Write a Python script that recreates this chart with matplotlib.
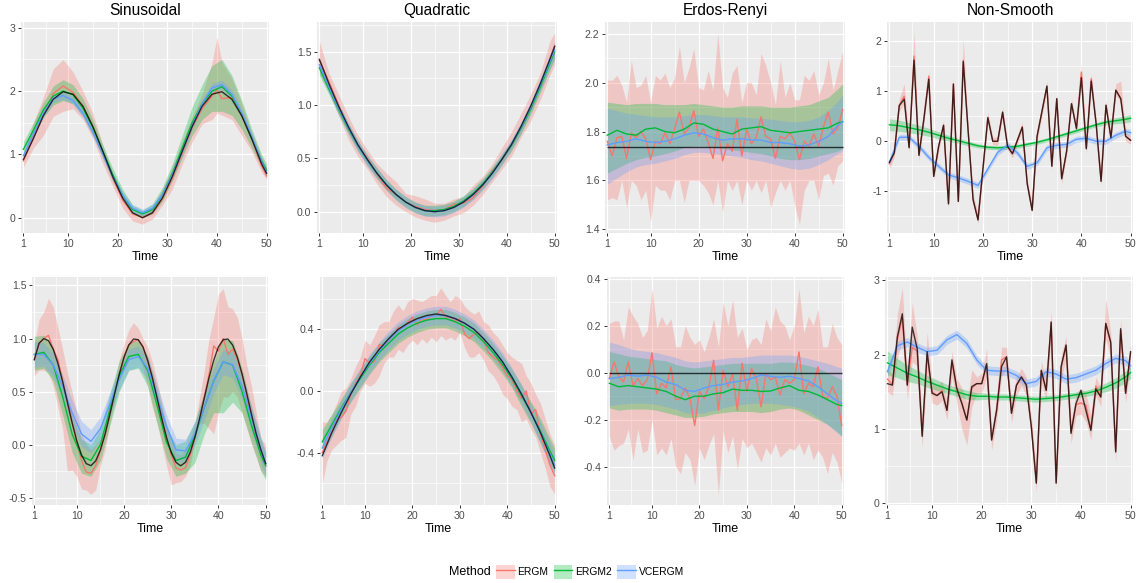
import numpy as np
import matplotlib.pyplot as plt
from matplotlib.patches import Patch
from matplotlib.lines import Line2D
from matplotlib.legend_handler import HandlerTuple

plt.rcParams['font.family'] = ['Liberation Sans', 'DejaVu Sans']
plt.rcParams['axes.unicode_minus'] = False

#%% data
t_all = list(range(1, 51))
t_odd = [1, 3, 5, 7, 9, 11, 13, 15, 17, 19, 21, 23, 25, 27, 29, 31, 33, 35, 37, 39, 41, 43, 45, 47, 49, 50]
# same as t_odd plus t=40, where the ERGM band spikes
sin1_ergm_t = [1, 3, 5, 7, 9, 11, 13, 15, 17, 19, 21, 23, 25, 27, 29, 31, 33, 35, 37, 39, 40, 41, 43, 45, 47, 49, 50]

methods = ['ERGM', 'ERGM2', 'VCERGM']
titles = ['Sinusoidal', 'Quadratic', 'Erdos-Renyi', 'Non-Smooth']
x_ticks = [1, 10, 20, 30, 40, 50]
x_labels = ['1', '10', '20', '30', '40', '50']

# ---- Sinusoidal, row 1
sin1_true = [0.92, 1.25, 1.61, 1.87, 1.99, 1.95, 1.76, 1.44, 1.05, 0.65, 0.31, 0.08, 0.00, 0.08, 0.31, 0.65, 1.05, 1.44, 1.76, 1.95, 1.99, 1.87, 1.61, 1.25, 0.85, 0.70]
sin1_ergm = [0.90, 1.26, 1.63, 1.96, 2.08, 1.98, 1.76, 1.42, 1.03, 0.63, 0.28, 0.06, 0.01, 0.07, 0.30, 0.62, 1.02, 1.42, 1.72, 1.92, 2.02, 1.88, 1.90, 1.60, 1.24, 0.82, 0.66]
sin1_ergm_hi = [1.00, 1.50, 1.90, 2.35, 2.50, 2.30, 2.00, 1.65, 1.15, 0.70, 0.35, 0.10, 0.05, 0.15, 0.45, 0.80, 1.20, 1.60, 1.95, 2.45, 2.85, 2.45, 2.20, 1.80, 1.35, 0.95, 0.80]
sin1_ergm_lo = [0.80, 1.10, 1.30, 1.60, 1.68, 1.72, 1.55, 1.25, 0.85, 0.50, 0.15, -0.05, -0.10, -0.02, 0.20, 0.45, 0.85, 1.20, 1.48, 1.55, 1.65, 1.62, 1.55, 1.30, 1.05, 0.72, 0.60]
sin1_ergm2 = [1.08, 1.38, 1.70, 1.92, 2.00, 1.94, 1.73, 1.42, 1.05, 0.68, 0.35, 0.13, 0.06, 0.13, 0.36, 0.70, 1.10, 1.50, 1.80, 2.00, 2.07, 1.92, 1.62, 1.25, 0.90, 0.75]
sin1_ergm2_hi = [1.20, 1.50, 1.82, 2.08, 2.18, 2.10, 1.88, 1.55, 1.15, 0.78, 0.45, 0.20, 0.12, 0.22, 0.48, 0.85, 1.30, 1.75, 2.10, 2.40, 2.50, 2.25, 1.85, 1.40, 1.00, 0.85]
sin1_ergm2_lo = [1.00, 1.28, 1.58, 1.78, 1.85, 1.80, 1.60, 1.30, 0.95, 0.58, 0.27, 0.06, 0.00, 0.06, 0.26, 0.58, 0.95, 1.30, 1.55, 1.68, 1.68, 1.62, 1.40, 1.10, 0.80, 0.65]
sin1_vc = [0.98, 1.32, 1.65, 1.88, 1.93, 1.85, 1.65, 1.35, 1.00, 0.65, 0.35, 0.15, 0.08, 0.15, 0.36, 0.68, 1.05, 1.45, 1.80, 2.05, 2.10, 1.95, 1.65, 1.28, 0.88, 0.72]
sin1_vc_hi = [1.04, 1.38, 1.71, 1.94, 1.99, 1.91, 1.71, 1.41, 1.06, 0.71, 0.41, 0.21, 0.14, 0.21, 0.42, 0.74, 1.11, 1.51, 1.86, 2.12, 2.17, 2.02, 1.71, 1.34, 0.94, 0.78]
sin1_vc_lo = [0.92, 1.26, 1.59, 1.82, 1.87, 1.79, 1.59, 1.29, 0.94, 0.59, 0.29, 0.09, 0.02, 0.09, 0.30, 0.62, 0.99, 1.39, 1.74, 1.98, 2.03, 1.88, 1.59, 1.22, 0.82, 0.66]

# ---- Quadratic, row 1 (t_odd)
quad1_true = [1.43, 1.20, 0.99, 0.80, 0.63, 0.49, 0.36, 0.25, 0.16, 0.09, 0.04, 0.01, 0.00, 0.01, 0.04, 0.09, 0.16, 0.25, 0.36, 0.49, 0.63, 0.80, 0.99, 1.20, 1.43, 1.55]
quad1_ergm = [1.42, 1.22, 1.00, 0.78, 0.62, 0.50, 0.35, 0.22, 0.16, 0.09, 0.05, 0.02, 0.01, 0.02, 0.07, 0.08, 0.13, 0.24, 0.38, 0.48, 0.62, 0.78, 0.96, 1.18, 1.42, 1.56]
quad1_ergm_hi = [1.60, 1.30, 1.10, 0.90, 0.72, 0.58, 0.45, 0.36, 0.28, 0.17, 0.15, 0.12, 0.08, 0.08, 0.12, 0.14, 0.25, 0.33, 0.45, 0.60, 0.75, 0.92, 1.10, 1.30, 1.60, 1.68]
quad1_ergm_lo = [1.30, 1.12, 0.90, 0.68, 0.52, 0.40, 0.26, 0.14, 0.06, 0.00, -0.05, -0.08, -0.10, -0.08, -0.04, -0.01, 0.06, 0.16, 0.28, 0.40, 0.52, 0.70, 0.85, 1.05, 1.28, 1.38]
quad1_ergm2 = [1.35, 1.15, 0.96, 0.78, 0.62, 0.48, 0.36, 0.25, 0.16, 0.09, 0.04, 0.01, 0.01, 0.02, 0.05, 0.10, 0.17, 0.26, 0.37, 0.49, 0.62, 0.78, 0.96, 1.17, 1.39, 1.50]
quad1_ergm2_hi = [1.40, 1.20, 1.01, 0.83, 0.67, 0.53, 0.41, 0.30, 0.21, 0.14, 0.09, 0.06, 0.06, 0.07, 0.10, 0.15, 0.22, 0.31, 0.42, 0.54, 0.67, 0.83, 1.01, 1.22, 1.45, 1.57]
quad1_ergm2_lo = [1.28, 1.10, 0.91, 0.73, 0.57, 0.43, 0.31, 0.20, 0.11, 0.04, -0.01, -0.04, -0.04, -0.03, 0.00, 0.05, 0.12, 0.21, 0.32, 0.44, 0.57, 0.73, 0.91, 1.12, 1.33, 1.43]
quad1_vc = [1.38, 1.17, 0.97, 0.79, 0.62, 0.48, 0.36, 0.25, 0.16, 0.09, 0.04, 0.01, 0.00, 0.01, 0.04, 0.09, 0.16, 0.25, 0.36, 0.49, 0.63, 0.79, 0.98, 1.19, 1.41, 1.52]
quad1_vc_hi = [1.44, 1.22, 1.02, 0.84, 0.67, 0.53, 0.41, 0.30, 0.21, 0.14, 0.09, 0.06, 0.05, 0.06, 0.09, 0.14, 0.21, 0.30, 0.41, 0.54, 0.68, 0.84, 1.03, 1.25, 1.48, 1.60]
quad1_vc_lo = [1.32, 1.12, 0.92, 0.74, 0.57, 0.43, 0.31, 0.20, 0.11, 0.04, -0.01, -0.04, -0.05, -0.04, -0.01, 0.04, 0.11, 0.20, 0.31, 0.44, 0.58, 0.74, 0.93, 1.13, 1.34, 1.44]

# ---- Erdos-Renyi, row 1 (ERGM on t_all, rest on t_odd)
er1_true = 1.735
er1_ergm = [1.76, 1.70, 1.775, 1.78, 1.69, 1.795, 1.775, 1.80, 1.77, 1.685, 1.76, 1.75, 1.795, 1.75, 1.81, 1.88, 1.79, 1.815, 1.885, 1.78,
            1.81, 1.755, 1.69, 1.815, 1.68, 1.75, 1.72, 1.85, 1.70, 1.81, 1.75, 1.775, 1.86, 1.78, 1.77, 1.69, 1.78, 1.77, 1.795, 1.76,
            1.685, 1.76, 1.74, 1.79, 1.74, 1.82, 1.88, 1.79, 1.815, 1.89]
er1_ergm_hi = [2.01, 2.01, 2.03, 1.99, 1.92, 2.09, 1.98, 1.99, 2.03, 1.92, 2.03, 2.01, 2.04, 1.98, 2.02, 2.15, 2.00, 2.06, 2.14, 1.98,
               1.97, 2.05, 1.97, 2.20, 1.98, 1.94, 2.04, 2.07, 1.92, 2.00, 2.00, 1.95, 2.12, 2.07, 2.00, 1.91, 2.09, 1.94, 2.00, 1.93,
               1.93, 2.03, 2.01, 2.05, 1.95, 2.00, 2.10, 1.97, 2.05, 2.13]
er1_ergm_lo = [1.52, 1.53, 1.52, 1.60, 1.49, 1.60, 1.58, 1.52, 1.56, 1.43, 1.58, 1.56, 1.56, 1.52, 1.60, 1.60, 1.51, 1.60, 1.60, 1.60,
               1.58, 1.55, 1.50, 1.60, 1.47, 1.60, 1.56, 1.60, 1.50, 1.60, 1.56, 1.60, 1.55, 1.60, 1.49, 1.55, 1.60, 1.56, 1.60, 1.50,
               1.42, 1.56, 1.60, 1.60, 1.52, 1.62, 1.63, 1.58, 1.66, 1.68]
er1_ergm2 = [1.785, 1.805, 1.79, 1.785, 1.81, 1.815, 1.80, 1.795, 1.81, 1.835, 1.83, 1.81, 1.80, 1.79, 1.81, 1.815, 1.82, 1.805, 1.80, 1.795, 1.80, 1.805, 1.81, 1.815, 1.835, 1.84]
er1_ergm2_hi = [1.92, 1.915, 1.91, 1.915, 1.915, 1.915, 1.91, 1.91, 1.91, 1.915, 1.91, 1.905, 1.90, 1.90, 1.905, 1.905, 1.905, 1.90, 1.90, 1.90, 1.905, 1.91, 1.925, 1.94, 1.975, 1.995]
er1_ergm2_lo = [1.63, 1.65, 1.67, 1.685, 1.695, 1.70, 1.71, 1.72, 1.735, 1.74, 1.74, 1.735, 1.73, 1.725, 1.72, 1.715, 1.71, 1.70, 1.69, 1.685, 1.685, 1.69, 1.70, 1.71, 1.72, 1.73]
er1_vc = [1.745, 1.755, 1.76, 1.77, 1.76, 1.755, 1.76, 1.77, 1.785, 1.795, 1.79, 1.775, 1.765, 1.77, 1.77, 1.765, 1.765, 1.755, 1.755, 1.75, 1.74, 1.745, 1.76, 1.78, 1.825, 1.84]
er1_vc_hi = [1.895, 1.885, 1.875, 1.87, 1.865, 1.86, 1.86, 1.86, 1.865, 1.87, 1.87, 1.865, 1.86, 1.86, 1.86, 1.855, 1.855, 1.85, 1.845, 1.84, 1.84, 1.845, 1.86, 1.885, 1.925, 1.95]
er1_vc_lo = [1.585, 1.61, 1.635, 1.655, 1.665, 1.67, 1.68, 1.69, 1.705, 1.715, 1.715, 1.71, 1.705, 1.70, 1.695, 1.685, 1.68, 1.67, 1.66, 1.65, 1.645, 1.65, 1.665, 1.685, 1.71, 1.72]

# ---- Non-Smooth, row 1 (truth and ERGM on t_all)
ns1_true = [-0.42, -0.23, 0.71, 0.84, -0.13, 1.62, -0.28, 0.44, 1.24, -0.70, -0.10, 0.32, -1.25, 1.14, -1.20, 1.59, 0.20, -1.17, -1.57, -0.55,
            0.47, 0.00, 0.00, 0.58, -0.10, -0.25, 0.02, 0.28, -0.85, -1.38, 0.10, 0.60, 1.10, -0.50, 0.85, -0.75, -0.20, 0.75, 0.25, 1.27,
            -0.15, 1.20, 0.35, -0.80, 0.72, 0.07, 1.02, 0.85, 0.10, 0.02]
ns1_ergm = [-0.45, -0.22, 0.72, 0.90, -0.12, 1.70, -0.28, 0.45, 1.30, -0.70, -0.10, 0.32, -1.24, 1.15, -1.20, 1.62, 0.20, -1.15, -1.56, -0.55,
            0.48, 0.00, 0.00, 0.58, -0.10, -0.24, 0.02, 0.29, -0.84, -1.37, 0.10, 0.60, 1.10, -0.49, 0.85, -0.74, -0.20, 0.75, 0.26, 1.38,
            -0.14, 1.25, 0.35, -0.79, 0.72, 0.07, 1.02, 0.86, 0.10, 0.02]
ns1_ergm_hi = [-0.35, -0.10, 0.85, 1.15, 0.00, 2.20, -0.15, 0.55, 1.40, -0.55, 0.00, 0.42, -1.15, 1.25, -1.10, 2.05, 0.30, -1.05, -1.45, -0.45,
               0.58, 0.08, 0.08, 0.68, 0.00, -0.15, 0.10, 0.38, -0.75, -1.28, 0.20, 0.70, 1.20, -0.38, 0.95, -0.65, -0.10, 0.85, 0.36, 1.55,
               -0.05, 1.35, 0.45, -0.70, 0.82, 0.17, 1.15, 1.20, 0.20, 0.10]
ns1_ergm_lo = [-0.55, -0.32, 0.60, 0.75, -0.22, 1.45, -0.40, 0.35, 1.15, -0.80, -0.20, 0.22, -1.35, 1.05, -1.30, 1.45, 0.10, -1.25, -1.65, -0.65,
               0.38, -0.08, -0.08, 0.48, -0.18, -0.33, -0.06, 0.20, -0.92, -1.45, 0.00, 0.50, 1.00, -0.58, 0.75, -0.85, -0.30, 0.65, 0.18, 1.15,
               -0.25, 1.10, 0.25, -0.88, 0.62, -0.03, 0.92, 0.78, 0.00, -0.06]
ns1_ergm2 = [0.33, 0.31, 0.27, 0.23, 0.18, 0.12, 0.06, 0.01, -0.04, -0.09, -0.12, -0.13, -0.12, -0.10, -0.06, -0.02, 0.03, 0.09, 0.15, 0.21, 0.27, 0.33, 0.38, 0.41, 0.44, 0.46]
ns1_ergm2_hi = [0.45, 0.42, 0.37, 0.32, 0.26, 0.19, 0.12, 0.06, 0.01, -0.05, -0.08, -0.09, -0.08, -0.06, -0.02, 0.02, 0.07, 0.13, 0.19, 0.25, 0.31, 0.37, 0.43, 0.47, 0.51, 0.53]
ns1_ergm2_lo = [0.21, 0.20, 0.17, 0.14, 0.10, 0.05, 0.00, -0.04, -0.09, -0.13, -0.16, -0.17, -0.16, -0.14, -0.10, -0.06, -0.01, 0.05, 0.11, 0.17, 0.23, 0.29, 0.33, 0.35, 0.37, 0.39]
ns1_vc = [-0.42, 0.08, 0.08, -0.10, -0.32, -0.50, -0.67, -0.73, -0.80, -0.88, -0.55, -0.22, -0.08, -0.23, -0.50, -0.43, -0.13, -0.08, -0.06, 0.04, 0.06, 0.00, 0.00, 0.12, 0.20, 0.17]
ns1_vc_hi = [-0.36, 0.14, 0.14, -0.04, -0.26, -0.44, -0.61, -0.67, -0.74, -0.82, -0.49, -0.16, -0.02, -0.17, -0.44, -0.37, -0.07, -0.02, 0.00, 0.10, 0.12, 0.06, 0.06, 0.18, 0.26, 0.24]
ns1_vc_lo = [-0.48, 0.02, 0.02, -0.16, -0.38, -0.56, -0.73, -0.79, -0.86, -0.94, -0.61, -0.28, -0.14, -0.29, -0.56, -0.49, -0.19, -0.14, -0.12, -0.02, 0.00, -0.06, -0.06, 0.06, 0.14, 0.10]

# ---- Sinusoidal, row 2 (truth and ERGM on t_all)
sin2_true = [0.80, 0.955, 0.999, 0.980, 0.899, 0.765, 0.593, 0.400, 0.207, 0.035, -0.099, -0.180, -0.199, -0.154, -0.051, 0.100, 0.283, 0.478, 0.665, 0.824,
             0.938, 0.995, 0.989, 0.922, 0.795, 0.630, 0.439, 0.245, 0.067, -0.076, -0.168, -0.200, -0.168, -0.076, 0.067, 0.245, 0.439, 0.630, 0.795, 0.922,
             0.989, 0.995, 0.938, 0.824, 0.665, 0.478, 0.283, 0.100, -0.051, -0.180]
sin2_ergm = [0.80, 0.95, 1.00, 1.03, 0.90, 0.80, 0.60, 0.40, 0.20, 0.02, -0.15, -0.26, -0.27, -0.20, -0.05, 0.10, 0.29, 0.48, 0.66, 0.82,
             0.94, 0.97, 0.99, 0.92, 0.79, 0.63, 0.44, 0.24, 0.05, -0.10, -0.22, -0.24, -0.22, -0.10, 0.06, 0.24, 0.45, 0.66, 0.93, 0.88,
             1.00, 0.85, 0.90, 0.80, 0.66, 0.47, 0.27, 0.08, -0.10, -0.20]
sin2_ergm_hi = [0.95, 1.18, 1.25, 1.38, 1.30, 1.10, 0.90, 0.68, 0.50, 0.30, 0.10, 0.00, -0.05, 0.00, 0.05, 0.20, 0.40, 0.60, 0.80, 0.95,
                1.08, 1.15, 1.10, 1.00, 0.92, 0.78, 0.60, 0.40, 0.20, 0.05, -0.08, -0.10, -0.05, 0.05, 0.20, 0.45, 0.70, 1.00, 1.20, 1.42,
                1.47, 1.30, 1.28, 1.20, 1.00, 0.75, 0.55, 0.30, 0.05, 0.00]
sin2_ergm_lo = [0.65, 0.70, 0.70, 0.68, 0.55, 0.35, 0.15, -0.25, -0.24, -0.30, -0.42, -0.43, -0.47, -0.43, -0.20, -0.05, 0.20, 0.40, 0.60, 0.70,
                0.80, 0.85, 0.85, 0.72, 0.55, 0.35, 0.20, 0.00, -0.20, -0.38, -0.36, -0.35, -0.30, -0.20, 0.05, 0.20, 0.20, 0.15, 0.10, 0.30,
                0.45, 0.45, 0.50, 0.45, 0.30, 0.15, 0.00, -0.12, -0.25, -0.30]
sin2_ergm2 = [0.85, 0.87, 0.75, 0.45, 0.10, -0.11, -0.15, 0.00, 0.33, 0.65, 0.83, 0.85, 0.70, 0.37, 0.02, -0.15, -0.12, 0.08, 0.35, 0.60, 0.78, 0.75, 0.50, 0.18, -0.10, -0.20]
sin2_ergm2_hi = [1.02, 1.03, 0.92, 0.62, 0.27, 0.05, 0.00, 0.15, 0.48, 0.79, 0.96, 0.98, 0.84, 0.52, 0.17, 0.00, 0.03, 0.22, 0.50, 0.78, 1.00, 0.98, 0.72, 0.35, 0.05, -0.08]
sin2_ergm2_lo = [0.70, 0.72, 0.60, 0.28, -0.07, -0.27, -0.30, -0.15, 0.18, 0.50, 0.70, 0.72, 0.55, 0.20, -0.13, -0.30, -0.27, -0.17, 0.10, 0.30, 0.30, 0.40, 0.30, 0.02, -0.25, -0.33]
sin2_vc = [0.85, 0.85, 0.75, 0.55, 0.30, 0.10, 0.03, 0.15, 0.38, 0.62, 0.80, 0.83, 0.72, 0.45, 0.17, -0.05, -0.06, 0.10, 0.35, 0.60, 0.78, 0.75, 0.55, 0.25, -0.05, -0.18]
sin2_vc_hi = [0.97, 0.96, 0.86, 0.66, 0.42, 0.22, 0.14, 0.26, 0.49, 0.72, 0.90, 0.93, 0.83, 0.56, 0.28, 0.06, 0.05, 0.21, 0.47, 0.72, 0.90, 0.87, 0.67, 0.37, 0.07, -0.06]
sin2_vc_lo = [0.73, 0.74, 0.64, 0.44, 0.18, -0.02, -0.08, 0.04, 0.27, 0.52, 0.70, 0.73, 0.61, 0.34, 0.06, -0.16, -0.17, -0.01, 0.23, 0.48, 0.66, 0.63, 0.43, 0.13, -0.17, -0.30]

# ---- Quadratic, row 2 (ERGM on t_all)
quad2_true = [-0.42, -0.27, -0.14, -0.02, 0.09, 0.19, 0.27, 0.34, 0.40, 0.44, 0.47, 0.49, 0.50, 0.49, 0.47, 0.44, 0.40, 0.34, 0.27, 0.19, 0.09, -0.02, -0.14, -0.27, -0.42, -0.50]
quad2_ergm = [-0.40, -0.33, -0.27, -0.19, -0.17, -0.13, -0.02, 0.05, 0.10, 0.21, 0.18, 0.19, 0.30, 0.29, 0.33, 0.36, 0.41, 0.41, 0.44, 0.48,
              0.43, 0.47, 0.46, 0.49, 0.49, 0.53, 0.48, 0.48, 0.45, 0.47, 0.37, 0.34, 0.37, 0.38, 0.33, 0.25, 0.22, 0.20, 0.15, 0.10,
              0.07, 0.00, -0.05, 0.00, -0.15, -0.12, -0.28, -0.38, -0.48, -0.55]
quad2_ergm_hi = [-0.20, -0.20, -0.15, -0.08, 0.00, 0.02, 0.08, 0.16, 0.22, 0.33, 0.30, 0.36, 0.43, 0.45, 0.45, 0.52, 0.56, 0.52, 0.58, 0.60,
                 0.59, 0.58, 0.60, 0.62, 0.62, 0.67, 0.62, 0.58, 0.62, 0.60, 0.55, 0.52, 0.50, 0.52, 0.45, 0.43, 0.38, 0.35, 0.30, 0.25,
                 0.22, 0.20, 0.18, 0.10, 0.05, -0.02, -0.08, -0.18, -0.28, -0.35]
quad2_ergm_lo = [-0.60, -0.45, -0.38, -0.35, -0.32, -0.30, -0.15, -0.10, 0.00, 0.05, 0.03, 0.05, 0.10, 0.18, 0.22, 0.22, 0.27, 0.25, 0.30, 0.33,
                 0.30, 0.34, 0.31, 0.35, 0.32, 0.36, 0.33, 0.35, 0.33, 0.38, 0.28, 0.22, 0.22, 0.25, 0.20, 0.13, 0.10, 0.05, -0.02, -0.05,
                 -0.10, -0.12, -0.20, -0.18, -0.25, -0.30, -0.40, -0.50, -0.62, -0.67]
quad2_ergm2 = [-0.33, -0.22, -0.11, -0.01, 0.08, 0.17, 0.25, 0.31, 0.37, 0.41, 0.44, 0.46, 0.47, 0.47, 0.45, 0.42, 0.38, 0.32, 0.25, 0.17, 0.08, -0.03, -0.14, -0.26, -0.39, -0.45]
quad2_ergm2_hi = [-0.25, -0.15, -0.05, 0.05, 0.14, 0.23, 0.31, 0.37, 0.43, 0.47, 0.50, 0.52, 0.53, 0.53, 0.51, 0.48, 0.44, 0.38, 0.31, 0.23, 0.14, 0.04, -0.07, -0.18, -0.31, -0.37]
quad2_ergm2_lo = [-0.41, -0.29, -0.17, -0.07, 0.02, 0.11, 0.19, 0.25, 0.31, 0.35, 0.38, 0.40, 0.41, 0.41, 0.39, 0.36, 0.32, 0.26, 0.19, 0.11, 0.02, -0.10, -0.21, -0.34, -0.47, -0.53]
quad2_vc = [-0.37, -0.24, -0.12, -0.01, 0.09, 0.18, 0.26, 0.33, 0.39, 0.43, 0.46, 0.48, 0.49, 0.49, 0.47, 0.44, 0.40, 0.34, 0.27, 0.19, 0.09, -0.02, -0.14, -0.27, -0.41, -0.48]
quad2_vc_hi = [-0.30, -0.18, -0.06, 0.05, 0.15, 0.24, 0.32, 0.39, 0.45, 0.49, 0.52, 0.54, 0.55, 0.55, 0.53, 0.50, 0.46, 0.40, 0.33, 0.25, 0.15, 0.04, -0.08, -0.20, -0.34, -0.41]
quad2_vc_lo = [-0.44, -0.30, -0.18, -0.07, 0.03, 0.12, 0.20, 0.27, 0.33, 0.37, 0.40, 0.42, 0.43, 0.43, 0.41, 0.38, 0.34, 0.28, 0.21, 0.13, 0.03, -0.08, -0.20, -0.34, -0.48, -0.55]

# ---- Erdos-Renyi, row 2
er2_true = 0.0
er2_ergm = [-0.025, 0.046, -0.018, -0.04, 0.046, -0.055, -0.025, -0.055, -0.03, 0.085, -0.09, -0.045, -0.065, 0.025, -0.115, -0.11, -0.065, -0.11, -0.225, -0.08,
            -0.11, -0.06, 0.053, -0.16, 0.01, -0.06, -0.005, -0.16, 0.04, -0.08, 0.018, -0.025, -0.145, -0.005, -0.03, -0.018, -0.095, -0.03, -0.045, -0.03,
            0.088, -0.09, -0.045, -0.06, 0.025, -0.10, -0.11, -0.06, -0.10, -0.225]
er2_ergm_hi = [0.21, 0.22, 0.22, 0.14, 0.28, 0.24, 0.21, 0.15, 0.18, 0.36, 0.19, 0.24, 0.20, 0.23, 0.11, 0.11, 0.20, 0.15, 0.12, 0.14,
               0.09, 0.15, 0.23, 0.11, 0.30, 0.20, 0.31, 0.15, 0.19, 0.10, 0.14, 0.15, 0.12, 0.23, 0.18, 0.28, 0.22, 0.20, 0.14, 0.20,
               0.36, 0.17, 0.24, 0.20, 0.27, 0.11, 0.11, 0.21, 0.15, 0.12]
er2_ergm_lo = [-0.27, -0.33, -0.31, -0.30, -0.24, -0.37, -0.24, -0.34, -0.33, -0.20, -0.35, -0.32, -0.35, -0.28, -0.40, -0.43, -0.34, -0.37, -0.48, -0.32,
               -0.37, -0.31, -0.26, -0.52, -0.25, -0.34, -0.27, -0.41, -0.28, -0.32, -0.30, -0.34, -0.38, -0.32, -0.35, -0.30, -0.36, -0.34, -0.32, -0.33,
               -0.30, -0.35, -0.30, -0.37, -0.33, -0.36, -0.43, -0.34, -0.38, -0.47]
er2_ergm2 = [-0.045, -0.06, -0.055, -0.06, -0.065, -0.07, -0.08, -0.10, -0.115, -0.10, -0.10, -0.09, -0.085, -0.07, -0.075, -0.075, -0.08, -0.078, -0.065, -0.055, -0.075, -0.08, -0.095, -0.115, -0.135, -0.14]
er2_ergm2_hi = [0.09, 0.08, 0.07, 0.065, 0.06, 0.055, 0.05, 0.035, 0.025, 0.02, 0.025, 0.03, 0.035, 0.04, 0.04, 0.04, 0.04, 0.04, 0.045, 0.045, 0.04, 0.03, 0.02, 0.00, -0.02, -0.03]
er2_ergm2_lo = [-0.15, -0.16, -0.155, -0.155, -0.155, -0.16, -0.17, -0.18, -0.19, -0.19, -0.185, -0.175, -0.17, -0.165, -0.165, -0.165, -0.17, -0.165, -0.155, -0.15, -0.16, -0.18, -0.20, -0.22, -0.25, -0.27]
er2_vc = [-0.025, -0.02, -0.01, -0.015, -0.01, -0.02, -0.04, -0.05, -0.075, -0.08, -0.065, -0.055, -0.05, -0.04, -0.035, -0.025, -0.01, -0.015, -0.02, -0.015, -0.025, -0.035, -0.06, -0.09, -0.12, -0.13]
er2_vc_hi = [0.13, 0.12, 0.105, 0.095, 0.09, 0.085, 0.075, 0.065, 0.05, 0.045, 0.05, 0.055, 0.06, 0.065, 0.065, 0.07, 0.075, 0.075, 0.075, 0.075, 0.07, 0.06, 0.05, 0.04, 0.025, 0.02]
er2_vc_lo = [-0.14, -0.135, -0.13, -0.13, -0.13, -0.135, -0.145, -0.155, -0.17, -0.175, -0.17, -0.16, -0.15, -0.14, -0.135, -0.13, -0.13, -0.13, -0.135, -0.14, -0.15, -0.165, -0.19, -0.22, -0.255, -0.27]

# ---- Non-Smooth, row 2 (truth and ERGM on t_all)
ns2_true = [1.61, 1.59, 2.24, 2.55, 1.59, 2.37, 2.08, 0.90, 2.04, 1.48, 1.45, 1.50, 1.25, 1.93, 1.54, 1.34, 1.12, 1.57, 1.61, 1.61,
            1.88, 0.85, 1.25, 1.84, 1.97, 1.21, 1.59, 1.70, 1.59, 1.03, 0.27, 1.79, 1.52, 2.44, 0.27, 1.84, 2.13, 0.94, 1.34, 1.52,
            1.25, 0.98, 1.54, 1.43, 2.42, 2.17, 0.69, 2.35, 1.48, 2.04]
ns2_ergm = [1.67, 1.60, 2.20, 2.50, 1.59, 2.10, 2.05, 0.92, 2.00, 1.50, 1.45, 1.52, 1.25, 1.90, 1.52, 1.36, 1.12, 1.55, 1.61, 1.61,
            1.86, 0.86, 1.25, 1.93, 1.97, 1.22, 1.58, 1.70, 1.59, 1.04, 0.28, 1.78, 1.52, 2.43, 0.28, 1.82, 2.12, 0.96, 1.33, 1.35,
            1.32, 1.00, 1.58, 1.43, 2.42, 2.15, 0.70, 2.33, 1.48, 2.02]
ns2_ergm_hi = [1.80, 1.75, 2.55, 2.90, 1.75, 2.70, 2.25, 1.10, 2.30, 1.65, 1.58, 1.65, 1.38, 2.05, 1.68, 1.55, 1.35, 1.80, 1.70, 1.75,
               2.08, 1.00, 1.40, 2.10, 2.10, 1.35, 1.70, 1.82, 1.70, 1.20, 0.42, 1.92, 1.65, 2.60, 0.42, 1.98, 2.25, 1.12, 1.48, 1.55,
               1.48, 1.18, 1.70, 1.55, 2.75, 2.30, 0.85, 2.48, 1.60, 2.15]
ns2_ergm_lo = [1.50, 1.45, 1.95, 2.20, 1.40, 1.90, 1.85, 0.75, 1.75, 1.35, 1.32, 1.38, 1.12, 1.70, 1.35, 1.00, 0.78, 1.30, 1.48, 1.48,
               1.70, 0.72, 1.10, 1.70, 1.80, 1.08, 1.45, 1.58, 1.45, 0.88, 0.15, 1.62, 1.38, 2.25, 0.15, 1.65, 1.95, 0.80, 1.18, 1.20,
               1.10, 0.85, 1.45, 1.30, 2.20, 1.98, 0.55, 2.15, 1.35, 1.88]
ns2_ergm2 = [1.89, 1.82, 1.75, 1.70, 1.64, 1.59, 1.54, 1.50, 1.46, 1.44, 1.44, 1.43, 1.43, 1.42, 1.41, 1.40, 1.41, 1.42, 1.44, 1.46, 1.48, 1.51, 1.56, 1.62, 1.70, 1.76]
ns2_ergm2_hi = [2.05, 1.95, 1.86, 1.79, 1.72, 1.66, 1.60, 1.56, 1.52, 1.49, 1.48, 1.47, 1.47, 1.46, 1.45, 1.44, 1.45, 1.46, 1.48, 1.50, 1.52, 1.56, 1.62, 1.69, 1.78, 1.84]
ns2_ergm2_lo = [1.73, 1.69, 1.64, 1.61, 1.56, 1.52, 1.48, 1.44, 1.40, 1.39, 1.40, 1.39, 1.39, 1.38, 1.37, 1.36, 1.37, 1.38, 1.40, 1.42, 1.44, 1.46, 1.50, 1.55, 1.62, 1.68]
ns2_vc = [1.77, 2.12, 2.17, 2.10, 2.04, 2.06, 2.20, 2.27, 2.15, 1.93, 1.79, 1.78, 1.78, 1.72, 1.61, 1.64, 1.77, 1.74, 1.67, 1.69, 1.74, 1.79, 1.88, 1.95, 1.92, 1.85]
ns2_vc_hi = [1.84, 2.18, 2.23, 2.16, 2.10, 2.12, 2.26, 2.33, 2.21, 1.99, 1.85, 1.84, 1.84, 1.78, 1.67, 1.70, 1.83, 1.80, 1.73, 1.75, 1.80, 1.85, 1.94, 2.01, 1.98, 1.91]
ns2_vc_lo = [1.70, 2.06, 2.11, 2.04, 1.98, 2.00, 2.14, 2.21, 2.09, 1.87, 1.73, 1.72, 1.72, 1.66, 1.55, 1.58, 1.71, 1.68, 1.61, 1.63, 1.68, 1.73, 1.82, 1.89, 1.86, 1.79]

# y axis ticks per panel
sin1_yticks = [0, 1, 2, 3]
sin1_ylabels = ['0', '1', '2', '3']
quad1_yticks = [0.0, 0.5, 1.0, 1.5]
quad1_ylabels = ['0.0', '0.5', '1.0', '1.5']
er1_yticks = [1.4, 1.6, 1.8, 2.0, 2.2]
er1_ylabels = ['1.4', '1.6', '1.8', '2.0', '2.2']
ns1_yticks = [-1, 0, 1, 2]
ns1_ylabels = ['-1', '0', '1', '2']
sin2_yticks = [-0.5, 0.0, 0.5, 1.0, 1.5]
sin2_ylabels = ['-0.5', '0.0', '0.5', '1.0', '1.5']
quad2_yticks = [-0.4, 0.0, 0.4]
quad2_ylabels = ['-0.4', '0.0', '0.4']
er2_yticks = [-0.4, -0.2, 0.0, 0.2, 0.4]
er2_ylabels = ['-0.4', '-0.2', '0.0', '0.2', '0.4']
ns2_yticks = [0, 1, 2, 3]
ns2_ylabels = ['0', '1', '2', '3']

#%% styling
col_ergm = '#F8766D'
col_ergm2 = '#00BA38'
col_vc = '#619CFF'
colors = [col_ergm, col_ergm2, col_vc]

W, H = 1138, 583
fig = plt.figure(figsize=(W / 100, H / 100), dpi=100)


def px_axes(left, top, right, bottom):
    return fig.add_axes([left / W, 1 - bottom / H, (right - left) / W, (bottom - top) / H])


def minor_from(major, lo, hi):
    step = major[1] - major[0]
    mids = [(a + b) / 2 for a, b in zip(major[:-1], major[1:])]
    ext = [major[0] - step / 2, major[-1] + step / 2]
    return [m for m in mids + ext if lo < m < hi]


def style(ax, yticks, ylabels, ylim):
    ax.set_facecolor('#EBEBEB')
    for s in ax.spines.values():
        s.set_visible(False)
    ax.set_xlim(0.51, 50.49)
    ax.set_ylim(*ylim)
    ax.set_xticks(x_ticks)
    ax.set_xticklabels(x_labels)
    ax.set_yticks(yticks)
    ax.set_yticklabels(ylabels)
    ax.set_xticks([5.5, 15, 25, 35, 45], minor=True)
    ax.set_yticks(minor_from(yticks, *ylim), minor=True)
    ax.grid(which='major', color='white', lw=0.9)
    ax.grid(which='minor', color='white', lw=0.45)
    ax.set_axisbelow(True)
    ax.tick_params(which='major', length=2.5, width=0.7, color='#333333',
                   labelsize=7.6, labelcolor='#4D4D4D', pad=1.5)
    ax.tick_params(which='minor', length=0)
    ax.set_xlabel('Time', fontsize=9, labelpad=1.5)


def draw(ax, true_t, true_y, ergm_t, ergm, ergm_lo, ergm_hi, rest_t,
         ergm2, ergm2_lo, ergm2_hi, vc, vc_lo, vc_hi):
    ax.fill_between(ergm_t, ergm_lo, ergm_hi, color=col_ergm, alpha=0.3, lw=0)
    ax.fill_between(rest_t, ergm2_lo, ergm2_hi, color=col_ergm2, alpha=0.3, lw=0)
    ax.fill_between(rest_t, vc_lo, vc_hi, color=col_vc, alpha=0.3, lw=0)
    ax.plot(ergm_t, ergm, color=col_ergm, lw=1.0)
    ax.plot(rest_t, ergm2, color=col_ergm2, lw=1.0)
    ax.plot(rest_t, vc, color=col_vc, lw=1.0)
    if np.isscalar(true_y):
        ax.hlines(true_y, true_t[0], true_t[-1], color='black', alpha=0.75, lw=1.0)
    else:
        ax.plot(true_t, true_y, color='black', alpha=0.75, lw=1.0)


#%% top row
ax = px_axes(21, 22, 269, 233)
draw(ax, t_odd, sin1_true, sin1_ergm_t, sin1_ergm, sin1_ergm_lo, sin1_ergm_hi, t_odd,
     sin1_ergm2, sin1_ergm2_lo, sin1_ergm2_hi, sin1_vc, sin1_vc_lo, sin1_vc_hi)
style(ax, sin1_yticks, sin1_ylabels, (-0.24, 3.09))
ax.set_title(titles[0], fontsize=11.2, pad=5)

ax = px_axes(317, 22, 557, 233)
draw(ax, t_odd, quad1_true, t_odd, quad1_ergm, quad1_ergm_lo, quad1_ergm_hi, t_odd,
     quad1_ergm2, quad1_ergm2_lo, quad1_ergm2_hi, quad1_vc, quad1_vc_lo, quad1_vc_hi)
style(ax, quad1_yticks, quad1_ylabels, (-0.2, 1.78))
ax.set_title(titles[1], fontsize=11.2, pad=5)

ax = px_axes(605, 22, 845, 233)
draw(ax, t_all, er1_true, t_all, er1_ergm, er1_ergm_lo, er1_ergm_hi, t_odd,
     er1_ergm2, er1_ergm2_lo, er1_ergm2_hi, er1_vc, er1_vc_lo, er1_vc_hi)
style(ax, er1_yticks, er1_ylabels, (1.385, 2.248))
ax.set_title(titles[2], fontsize=11.2, pad=5)

ax = px_axes(887, 22, 1133, 233)
draw(ax, t_all, ns1_true, t_all, ns1_ergm, ns1_ergm_lo, ns1_ergm_hi, t_odd,
     ns1_ergm2, ns1_ergm2_lo, ns1_ergm2_hi, ns1_vc, ns1_vc_lo, ns1_vc_hi)
style(ax, ns1_yticks, ns1_ylabels, (-1.83, 2.38))
ax.set_title(titles[3], fontsize=11.2, pad=5)

#%% bottom row
ax = px_axes(32, 277, 268, 505)
draw(ax, t_all, sin2_true, t_all, sin2_ergm, sin2_ergm_lo, sin2_ergm_hi, t_odd,
     sin2_ergm2, sin2_ergm2_lo, sin2_ergm2_hi, sin2_vc, sin2_vc_lo, sin2_vc_hi)
style(ax, sin2_yticks, sin2_ylabels, (-0.57, 1.58))

ax = px_axes(320, 277, 557, 505)
draw(ax, t_odd, quad2_true, t_all, quad2_ergm, quad2_ergm_lo, quad2_ergm_hi, t_odd,
     quad2_ergm2, quad2_ergm2_lo, quad2_ergm2_hi, quad2_vc, quad2_vc_lo, quad2_vc_hi)
style(ax, quad2_yticks, quad2_ylabels, (-0.74, 0.74))

ax = px_axes(607, 277, 844, 505)
draw(ax, t_all, er2_true, t_all, er2_ergm, er2_ergm_lo, er2_ergm_hi, t_odd,
     er2_ergm2, er2_ergm2_lo, er2_ergm2_hi, er2_vc, er2_vc_lo, er2_vc_hi)
style(ax, er2_yticks, er2_ylabels, (-0.563, 0.407))

ax = px_axes(885, 277, 1133, 505)
draw(ax, t_all, ns2_true, t_all, ns2_ergm, ns2_ergm_lo, ns2_ergm_hi, t_odd,
     ns2_ergm2, ns2_ergm2_lo, ns2_ergm2_hi, ns2_vc, ns2_vc_lo, ns2_vc_hi)
style(ax, ns2_yticks, ns2_ylabels, (-0.023, 3.045))

#%% legend at the bottom
handles = [(Patch(facecolor=c, alpha=0.3, edgecolor='none'), Line2D([], [], color=c, lw=1.0)) for c in colors]
fig.text(449 / W, 1 - 572 / H, 'Method', fontsize=9, va='center', ha='left')
fig.legend(handles, methods, loc='center left', bbox_to_anchor=(496 / W, 1 - 572 / H),
           ncol=3, frameon=False, fontsize=7.4, handlelength=1.8, handleheight=1.8,
           handletextpad=0.3, columnspacing=0.5, borderpad=0, borderaxespad=0,
           handler_map={tuple: HandlerTuple(ndivide=1, pad=0)})

fig.savefig('out.png', dpi=100)
